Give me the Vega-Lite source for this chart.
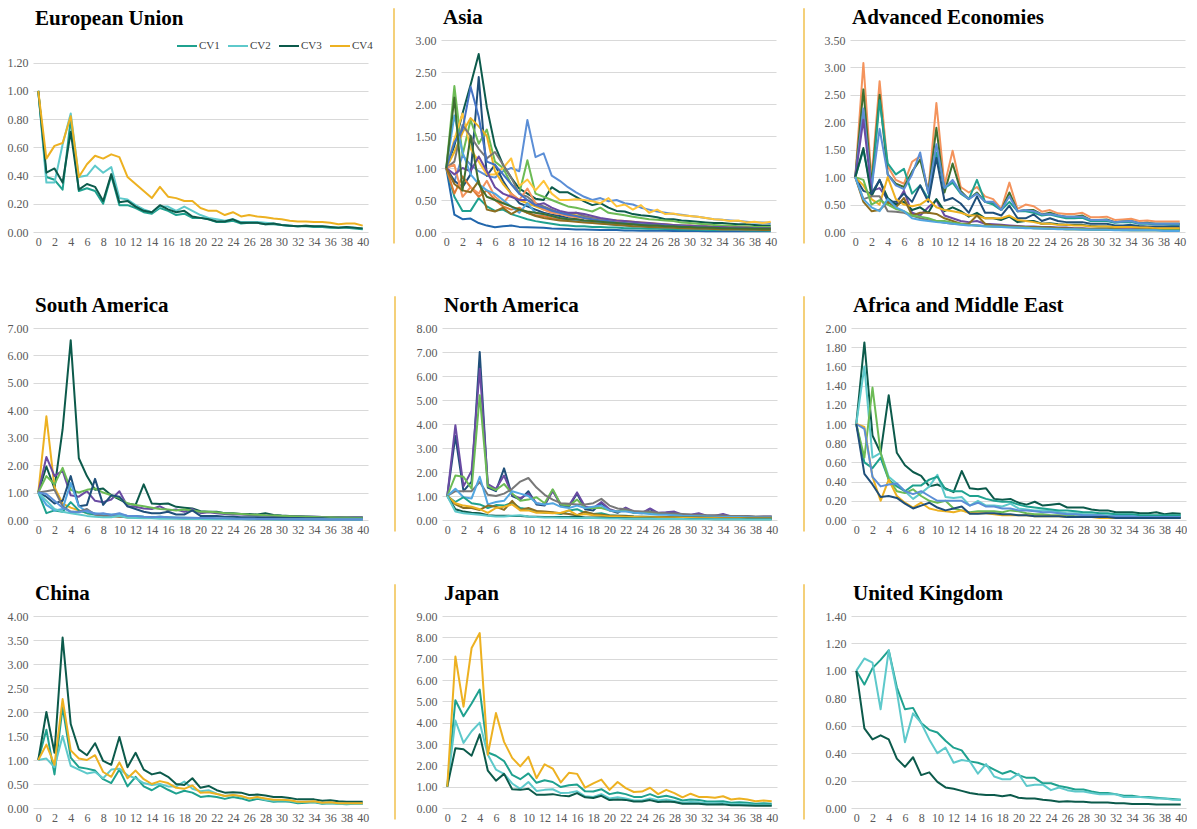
{
"$schema": "https://vega.github.io/schema/vega-lite/v6.json",
"background": "white",
"padding": {"left": 7, "top": 7, "right": 0, "bottom": 0},
"datasets": {
"eu": [
{"x":0,"CV1":1,"CV2":1,"CV3":1,"CV4":1},
{"x":1,"CV1":0.39,"CV2":0.35,"CV3":0.42,"CV4":0.52},
{"x":2,"CV1":0.37,"CV2":0.35,"CV3":0.45,"CV4":0.61},
{"x":3,"CV1":0.30,"CV2":0.62,"CV3":0.35,"CV4":0.63},
{"x":4,"CV1":0.80,"CV2":0.84,"CV3":0.71,"CV4":0.82},
{"x":5,"CV1":0.29,"CV2":0.39,"CV3":0.30,"CV4":0.39},
{"x":6,"CV1":0.31,"CV2":0.40,"CV3":0.34,"CV4":0.48},
{"x":7,"CV1":0.29,"CV2":0.47,"CV3":0.32,"CV4":0.54},
{"x":8,"CV1":0.20,"CV2":0.42,"CV3":0.22,"CV4":0.52},
{"x":9,"CV1":0.40,"CV2":0.46,"CV3":0.41,"CV4":0.55},
{"x":10,"CV1":0.19,"CV2":0.24,"CV3":0.21,"CV4":0.53},
{"x":11,"CV1":0.19,"CV2":0.23,"CV3":0.22,"CV4":0.39},
{"x":12,"CV1":0.17,"CV2":0.19,"CV3":0.18,"CV4":0.34},
{"x":13,"CV1":0.14,"CV2":0.16,"CV3":0.15,"CV4":0.29},
{"x":14,"CV1":0.13,"CV2":0.14,"CV3":0.14,"CV4":0.24},
{"x":15,"CV1":0.17,"CV2":0.18,"CV3":0.19,"CV4":0.32},
{"x":16,"CV1":0.15,"CV2":0.18,"CV3":0.16,"CV4":0.25},
{"x":17,"CV1":0.12,"CV2":0.15,"CV3":0.14,"CV4":0.24},
{"x":18,"CV1":0.13,"CV2":0.18,"CV3":0.15,"CV4":0.22},
{"x":19,"CV1":0.10,"CV2":0.15,"CV3":0.11,"CV4":0.22},
{"x":20,"CV1":0.10,"CV2":0.12,"CV3":0.10,"CV4":0.17},
{"x":21,"CV1":0.09,"CV2":0.10,"CV3":0.09,"CV4":0.15},
{"x":22,"CV1":0.07,"CV2":0.09,"CV3":0.075,"CV4":0.15},
{"x":23,"CV1":0.07,"CV2":0.08,"CV3":0.075,"CV4":0.12},
{"x":24,"CV1":0.08,"CV2":0.09,"CV3":0.09,"CV4":0.14},
{"x":25,"CV1":0.06,"CV2":0.07,"CV3":0.065,"CV4":0.11},
{"x":26,"CV1":0.065,"CV2":0.07,"CV3":0.065,"CV4":0.12},
{"x":27,"CV1":0.065,"CV2":0.07,"CV3":0.065,"CV4":0.11},
{"x":28,"CV1":0.055,"CV2":0.065,"CV3":0.055,"CV4":0.105},
{"x":29,"CV1":0.055,"CV2":0.06,"CV3":0.06,"CV4":0.095},
{"x":30,"CV1":0.05,"CV2":0.05,"CV3":0.05,"CV4":0.09},
{"x":31,"CV1":0.045,"CV2":0.045,"CV3":0.045,"CV4":0.08},
{"x":32,"CV1":0.04,"CV2":0.04,"CV3":0.04,"CV4":0.075},
{"x":33,"CV1":0.04,"CV2":0.045,"CV3":0.045,"CV4":0.075},
{"x":34,"CV1":0.035,"CV2":0.04,"CV3":0.04,"CV4":0.07},
{"x":35,"CV1":0.035,"CV2":0.04,"CV3":0.04,"CV4":0.07},
{"x":36,"CV1":0.03,"CV2":0.035,"CV3":0.035,"CV4":0.065},
{"x":37,"CV1":0.03,"CV2":0.03,"CV3":0.03,"CV4":0.055},
{"x":38,"CV1":0.03,"CV2":0.035,"CV3":0.035,"CV4":0.06},
{"x":39,"CV1":0.025,"CV2":0.03,"CV3":0.03,"CV4":0.06},
{"x":40,"CV1":0.02,"CV2":0.025,"CV3":0.025,"CV4":0.045}
],
"asia": [
{"x":0,"a":1,"b":1,"c":1,"d":1,"e":1,"f":1,"g":1,"h":1,"i":1,"j":1,"k":1,"l":1,"m":1,"n":1,"o":1,"p":1},
{"x":1,"a":1.35,"b":0.78,"c":0.8,"d":2.28,"e":1.45,"f":1.25,"g":1.1,"h":0.27,"i":0.55,"j":0.6,"k":1.05,"l":0.9,"m":1.82,"n":1.4,"o":0.75,"p":2.1},
{"x":2,"a":1.85,"b":1.2,"c":0.7,"d":1.2,"e":1.85,"f":1.55,"g":1.67,"h":0.2,"i":0.33,"j":0.87,"k":0.55,"l":1.0,"m":1.25,"n":1.6,"o":0.65,"p":0.65},
{"x":3,"a":2.3,"b":1.05,"c":0.9,"d":1.75,"e":1.3,"f":1.78,"g":1.5,"h":0.21,"i":0.33,"j":0.7,"k":0.7,"l":0.95,"m":0.9,"n":2.27,"o":0.62,"p":1.5},
{"x":4,"a":2.78,"b":0.95,"c":2.42,"d":1.38,"e":1.1,"f":1.65,"g":1.3,"h":0.14,"i":0.53,"j":0.55,"k":0.6,"l":1.18,"m":0.75,"n":1.8,"o":0.8,"p":0.75},
{"x":5,"a":1.95,"b":0.88,"c":0.88,"d":1.6,"e":0.9,"f":1.5,"g":1.15,"h":0.1,"i":0.4,"j":0.65,"k":0.8,"l":0.95,"m":0.65,"n":1.1,"o":0.35,"p":0.55},
{"x":6,"a":1.35,"b":0.85,"c":1.05,"d":1.1,"e":0.9,"f":0.95,"g":1.25,"h":0.075,"i":0.33,"j":0.5,"k":0.55,"l":0.7,"m":0.6,"n":1.05,"o":0.32,"p":0.5},
{"x":7,"a":1.05,"b":0.95,"c":0.8,"d":1.0,"e":1.0,"f":0.75,"g":1.05,"h":0.09,"i":0.35,"j":0.4,"k":0.45,"l":0.6,"m":0.5,"n":0.9,"o":0.38,"p":0.45},
{"x":8,"a":0.85,"b":1.0,"c":0.6,"d":0.75,"e":1.15,"f":0.6,"g":0.85,"h":0.1,"i":0.28,"j":0.35,"k":0.6,"l":0.55,"m":0.4,"n":0.75,"o":0.28,"p":0.4},
{"x":9,"a":0.68,"b":0.95,"c":0.45,"d":0.6,"e":0.72,"f":0.5,"g":0.6,"h":0.08,"i":0.24,"j":0.38,"k":0.5,"l":0.5,"m":0.3,"n":0.6,"o":0.35,"p":0.35},
{"x":10,"a":0.6,"b":1.75,"c":0.4,"d":1.12,"e":0.82,"f":0.45,"g":0.55,"h":0.075,"i":0.2,"j":0.3,"k":0.68,"l":0.5,"m":0.45,"n":0.5,"o":0.3,"p":0.32},
{"x":11,"a":0.52,"b":1.17,"c":0.35,"d":0.6,"e":0.65,"f":0.4,"g":0.45,"h":0.07,"i":0.17,"j":0.26,"k":0.45,"l":0.42,"m":0.3,"n":0.42,"o":0.25,"p":0.3},
{"x":12,"a":0.5,"b":1.23,"c":0.3,"d":0.55,"e":0.8,"f":0.35,"g":0.4,"h":0.065,"i":0.15,"j":0.25,"k":0.35,"l":0.45,"m":0.28,"n":0.38,"o":0.22,"p":0.28},
{"x":13,"a":0.7,"b":0.88,"c":0.27,"d":0.5,"e":0.6,"f":0.32,"g":0.35,"h":0.055,"i":0.13,"j":0.22,"k":0.3,"l":0.38,"m":0.25,"n":0.33,"o":0.2,"p":0.25},
{"x":14,"a":0.62,"b":0.8,"c":0.25,"d":0.45,"e":0.5,"f":0.3,"g":0.3,"h":0.05,"i":0.11,"j":0.2,"k":0.28,"l":0.33,"m":0.22,"n":0.3,"o":0.18,"p":0.22},
{"x":15,"a":0.62,"b":0.7,"c":0.22,"d":0.4,"e":0.5,"f":0.28,"g":0.28,"h":0.045,"i":0.1,"j":0.2,"k":0.25,"l":0.3,"m":0.2,"n":0.27,"o":0.17,"p":0.2},
{"x":16,"a":0.55,"b":0.62,"c":0.2,"d":0.38,"e":0.51,"f":0.26,"g":0.3,"h":0.04,"i":0.09,"j":0.18,"k":0.23,"l":0.3,"m":0.18,"n":0.25,"o":0.16,"p":0.2},
{"x":17,"a":0.48,"b":0.55,"c":0.18,"d":0.35,"e":0.5,"f":0.24,"g":0.25,"h":0.04,"i":0.09,"j":0.17,"k":0.22,"l":0.28,"m":0.16,"n":0.22,"o":0.15,"p":0.18},
{"x":18,"a":0.42,"b":0.5,"c":0.17,"d":0.32,"e":0.48,"f":0.22,"g":0.22,"h":0.035,"i":0.08,"j":0.16,"k":0.2,"l":0.25,"m":0.15,"n":0.2,"o":0.14,"p":0.17},
{"x":19,"a":0.45,"b":0.53,"c":0.15,"d":0.38,"e":0.45,"f":0.2,"g":0.2,"h":0.03,"i":0.08,"j":0.15,"k":0.18,"l":0.22,"m":0.14,"n":0.18,"o":0.13,"p":0.16},
{"x":20,"a":0.38,"b":0.48,"c":0.14,"d":0.3,"e":0.53,"f":0.19,"g":0.18,"h":0.03,"i":0.07,"j":0.14,"k":0.17,"l":0.2,"m":0.12,"n":0.17,"o":0.12,"p":0.15},
{"x":21,"a":0.33,"b":0.5,"c":0.13,"d":0.28,"e":0.4,"f":0.18,"g":0.17,"h":0.03,"i":0.07,"j":0.13,"k":0.16,"l":0.18,"m":0.11,"n":0.15,"o":0.11,"p":0.14},
{"x":22,"a":0.32,"b":0.45,"c":0.12,"d":0.26,"e":0.43,"f":0.17,"g":0.16,"h":0.025,"i":0.06,"j":0.12,"k":0.15,"l":0.17,"m":0.1,"n":0.14,"o":0.1,"p":0.13},
{"x":23,"a":0.28,"b":0.43,"c":0.11,"d":0.24,"e":0.35,"f":0.16,"g":0.15,"h":0.025,"i":0.06,"j":0.11,"k":0.13,"l":0.16,"m":0.09,"n":0.13,"o":0.09,"p":0.12},
{"x":24,"a":0.26,"b":0.38,"c":0.1,"d":0.22,"e":0.42,"f":0.15,"g":0.14,"h":0.02,"i":0.055,"j":0.1,"k":0.12,"l":0.15,"m":0.085,"n":0.12,"o":0.085,"p":0.11},
{"x":25,"a":0.25,"b":0.35,"c":0.09,"d":0.2,"e":0.3,"f":0.14,"g":0.13,"h":0.02,"i":0.05,"j":0.1,"k":0.11,"l":0.14,"m":0.08,"n":0.11,"o":0.08,"p":0.1},
{"x":26,"a":0.23,"b":0.32,"c":0.085,"d":0.19,"e":0.35,"f":0.13,"g":0.12,"h":0.02,"i":0.05,"j":0.09,"k":0.1,"l":0.13,"m":0.075,"n":0.1,"o":0.075,"p":0.1},
{"x":27,"a":0.2,"b":0.3,"c":0.08,"d":0.18,"e":0.28,"f":0.12,"g":0.11,"h":0.02,"i":0.045,"j":0.085,"k":0.095,"l":0.12,"m":0.07,"n":0.1,"o":0.07,"p":0.09},
{"x":28,"a":0.2,"b":0.28,"c":0.075,"d":0.17,"e":0.29,"f":0.11,"g":0.1,"h":0.015,"i":0.045,"j":0.08,"k":0.09,"l":0.11,"m":0.065,"n":0.09,"o":0.065,"p":0.09},
{"x":29,"a":0.18,"b":0.27,"c":0.07,"d":0.15,"e":0.26,"f":0.1,"g":0.1,"h":0.015,"i":0.04,"j":0.075,"k":0.085,"l":0.1,"m":0.06,"n":0.085,"o":0.06,"p":0.08},
{"x":30,"a":0.17,"b":0.25,"c":0.065,"d":0.14,"e":0.25,"f":0.1,"g":0.09,"h":0.015,"i":0.04,"j":0.07,"k":0.08,"l":0.1,"m":0.055,"n":0.08,"o":0.055,"p":0.08},
{"x":31,"a":0.16,"b":0.24,"c":0.06,"d":0.13,"e":0.24,"f":0.09,"g":0.09,"h":0.015,"i":0.035,"j":0.065,"k":0.075,"l":0.09,"m":0.05,"n":0.075,"o":0.05,"p":0.07},
{"x":32,"a":0.15,"b":0.22,"c":0.055,"d":0.12,"e":0.22,"f":0.09,"g":0.08,"h":0.01,"i":0.035,"j":0.06,"k":0.07,"l":0.09,"m":0.05,"n":0.07,"o":0.05,"p":0.07},
{"x":33,"a":0.14,"b":0.2,"c":0.05,"d":0.11,"e":0.2,"f":0.08,"g":0.08,"h":0.01,"i":0.03,"j":0.06,"k":0.065,"l":0.08,"m":0.045,"n":0.065,"o":0.045,"p":0.065},
{"x":34,"a":0.14,"b":0.19,"c":0.05,"d":0.1,"e":0.19,"f":0.08,"g":0.07,"h":0.01,"i":0.03,"j":0.055,"k":0.06,"l":0.08,"m":0.04,"n":0.06,"o":0.04,"p":0.06},
{"x":35,"a":0.13,"b":0.18,"c":0.045,"d":0.1,"e":0.17,"f":0.07,"g":0.07,"h":0.01,"i":0.03,"j":0.05,"k":0.06,"l":0.07,"m":0.04,"n":0.06,"o":0.04,"p":0.06},
{"x":36,"a":0.12,"b":0.17,"c":0.04,"d":0.09,"e":0.18,"f":0.07,"g":0.07,"h":0.01,"i":0.03,"j":0.05,"k":0.055,"l":0.07,"m":0.035,"n":0.055,"o":0.04,"p":0.055},
{"x":37,"a":0.12,"b":0.16,"c":0.04,"d":0.09,"e":0.15,"f":0.07,"g":0.06,"h":0.01,"i":0.025,"j":0.045,"k":0.05,"l":0.07,"m":0.035,"n":0.05,"o":0.035,"p":0.055},
{"x":38,"a":0.11,"b":0.15,"c":0.035,"d":0.08,"e":0.16,"f":0.06,"g":0.06,"h":0.01,"i":0.025,"j":0.045,"k":0.05,"l":0.06,"m":0.03,"n":0.05,"o":0.035,"p":0.05},
{"x":39,"a":0.1,"b":0.15,"c":0.035,"d":0.08,"e":0.14,"f":0.06,"g":0.06,"h":0.01,"i":0.025,"j":0.04,"k":0.05,"l":0.06,"m":0.03,"n":0.05,"o":0.03,"p":0.05},
{"x":40,"a":0.1,"b":0.14,"c":0.03,"d":0.08,"e":0.16,"f":0.06,"g":0.06,"h":0.01,"i":0.02,"j":0.04,"k":0.05,"l":0.06,"m":0.03,"n":0.045,"o":0.03,"p":0.05}
],
"adv": [
{"x":0,"a":1,"b":1,"c":1,"d":1,"e":1,"f":1,"g":1,"h":1,"i":1,"j":1,"k":1,"l":1},
{"x":1,"a":3.08,"b":2.6,"c":1.5,"d":2.25,"e":2.05,"f":1.53,"g":0.75,"h":0.85,"i":0.55,"j":0.6,"k":0.95,"l":0.6},
{"x":2,"a":0.95,"b":0.85,"c":0.75,"d":0.8,"e":0.75,"f":0.65,"g":0.7,"h":0.6,"i":0.38,"j":0.65,"k":0.5,"l":0.45},
{"x":3,"a":2.75,"b":2.5,"c":2.4,"d":1.88,"e":0.8,"f":0.95,"g":0.95,"h":0.5,"i":0.4,"j":0.65,"k":0.58,"l":0.38},
{"x":4,"a":1.2,"b":1.05,"c":1.25,"d":1.05,"e":0.6,"f":0.62,"g":0.55,"h":1.0,"i":0.55,"j":0.38,"k":0.5,"l":0.6},
{"x":5,"a":0.95,"b":0.88,"c":1.05,"d":0.85,"e":0.5,"f":0.5,"g":0.55,"h":0.6,"i":0.45,"j":0.37,"k":0.42,"l":0.45},
{"x":6,"a":0.88,"b":0.82,"c":1.15,"d":0.78,"e":0.75,"f":0.55,"g":0.7,"h":0.5,"i":0.62,"j":0.35,"k":0.38,"l":0.38},
{"x":7,"a":1.28,"b":1.1,"c":0.7,"d":1.05,"e":0.35,"f":0.4,"g":0.55,"h":0.47,"i":0.3,"j":0.3,"k":0.3,"l":0.25},
{"x":8,"a":1.38,"b":1.32,"c":0.85,"d":1.45,"e":0.3,"f":0.45,"g":0.85,"h":0.5,"i":0.35,"j":0.25,"k":0.28,"l":0.22},
{"x":9,"a":0.75,"b":0.72,"c":0.6,"d":0.7,"e":0.45,"f":0.35,"g":0.55,"h":0.6,"i":0.35,"j":0.22,"k":0.25,"l":0.2},
{"x":10,"a":2.35,"b":1.9,"c":1.45,"d":1.6,"e":0.58,"f":0.6,"g":1.35,"h":0.45,"i":0.33,"j":0.2,"k":0.2,"l":0.18},
{"x":11,"a":0.85,"b":0.72,"c":0.8,"d":0.8,"e":0.3,"f":0.38,"g":0.57,"h":0.4,"i":0.25,"j":0.17,"k":0.2,"l":0.17},
{"x":12,"a":1.48,"b":1.25,"c":0.9,"d":0.95,"e":0.25,"f":0.45,"g":0.62,"h":0.38,"i":0.2,"j":0.15,"k":0.17,"l":0.15},
{"x":13,"a":0.82,"b":0.75,"c":0.7,"d":0.72,"e":0.2,"f":0.38,"g":0.52,"h":0.35,"i":0.15,"j":0.14,"k":0.15,"l":0.13},
{"x":14,"a":0.72,"b":0.6,"c":0.6,"d":0.6,"e":0.18,"f":0.28,"g":0.35,"h":0.3,"i":0.15,"j":0.13,"k":0.13,"l":0.12},
{"x":15,"a":0.82,"b":0.72,"c":0.95,"d":0.7,"e":0.2,"f":0.35,"g":0.65,"h":0.3,"i":0.3,"j":0.12,"k":0.12,"l":0.12},
{"x":16,"a":0.65,"b":0.55,"c":0.55,"d":0.55,"e":0.15,"f":0.25,"g":0.35,"h":0.25,"i":0.15,"j":0.11,"k":0.11,"l":0.1},
{"x":17,"a":0.6,"b":0.52,"c":0.5,"d":0.55,"e":0.14,"f":0.25,"g":0.35,"h":0.25,"i":0.12,"j":0.1,"k":0.1,"l":0.1},
{"x":18,"a":0.42,"b":0.4,"c":0.4,"d":0.4,"e":0.13,"f":0.22,"g":0.3,"h":0.25,"i":0.12,"j":0.1,"k":0.1,"l":0.09},
{"x":19,"a":0.9,"b":0.72,"c":0.55,"d":0.65,"e":0.12,"f":0.28,"g":0.48,"h":0.3,"i":0.1,"j":0.09,"k":0.09,"l":0.08},
{"x":20,"a":0.42,"b":0.38,"c":0.38,"d":0.38,"e":0.11,"f":0.18,"g":0.25,"h":0.22,"i":0.1,"j":0.08,"k":0.08,"l":0.08},
{"x":21,"a":0.5,"b":0.4,"c":0.38,"d":0.4,"e":0.1,"f":0.2,"g":0.25,"h":0.2,"i":0.09,"j":0.08,"k":0.08,"l":0.07},
{"x":22,"a":0.47,"b":0.4,"c":0.35,"d":0.38,"e":0.1,"f":0.2,"g":0.32,"h":0.18,"i":0.09,"j":0.07,"k":0.07,"l":0.07},
{"x":23,"a":0.37,"b":0.32,"c":0.3,"d":0.32,"e":0.09,"f":0.15,"g":0.2,"h":0.15,"i":0.08,"j":0.07,"k":0.07,"l":0.06},
{"x":24,"a":0.4,"b":0.35,"c":0.32,"d":0.33,"e":0.09,"f":0.16,"g":0.25,"h":0.15,"i":0.08,"j":0.06,"k":0.06,"l":0.06},
{"x":25,"a":0.34,"b":0.3,"c":0.28,"d":0.3,"e":0.08,"f":0.14,"g":0.2,"h":0.13,"i":0.07,"j":0.06,"k":0.06,"l":0.05},
{"x":26,"a":0.33,"b":0.28,"c":0.25,"d":0.28,"e":0.08,"f":0.13,"g":0.18,"h":0.13,"i":0.07,"j":0.05,"k":0.05,"l":0.05},
{"x":27,"a":0.33,"b":0.28,"c":0.25,"d":0.28,"e":0.07,"f":0.13,"g":0.18,"h":0.12,"i":0.06,"j":0.05,"k":0.05,"l":0.05},
{"x":28,"a":0.35,"b":0.3,"c":0.26,"d":0.28,"e":0.07,"f":0.13,"g":0.18,"h":0.12,"i":0.06,"j":0.05,"k":0.05,"l":0.04},
{"x":29,"a":0.27,"b":0.22,"c":0.2,"d":0.22,"e":0.06,"f":0.11,"g":0.15,"h":0.1,"i":0.05,"j":0.05,"k":0.04,"l":0.04},
{"x":30,"a":0.27,"b":0.22,"c":0.2,"d":0.22,"e":0.06,"f":0.1,"g":0.15,"h":0.1,"i":0.05,"j":0.04,"k":0.04,"l":0.04},
{"x":31,"a":0.28,"b":0.23,"c":0.2,"d":0.22,"e":0.06,"f":0.1,"g":0.15,"h":0.1,"i":0.05,"j":0.04,"k":0.04,"l":0.04},
{"x":32,"a":0.22,"b":0.18,"c":0.17,"d":0.18,"e":0.05,"f":0.09,"g":0.12,"h":0.09,"i":0.05,"j":0.04,"k":0.04,"l":0.03},
{"x":33,"a":0.23,"b":0.19,"c":0.18,"d":0.19,"e":0.05,"f":0.09,"g":0.12,"h":0.09,"i":0.04,"j":0.04,"k":0.03,"l":0.03},
{"x":34,"a":0.24,"b":0.2,"c":0.18,"d":0.2,"e":0.05,"f":0.09,"g":0.13,"h":0.09,"i":0.04,"j":0.03,"k":0.03,"l":0.03},
{"x":35,"a":0.2,"b":0.16,"c":0.15,"d":0.16,"e":0.05,"f":0.08,"g":0.11,"h":0.08,"i":0.04,"j":0.03,"k":0.03,"l":0.03},
{"x":36,"a":0.21,"b":0.17,"c":0.15,"d":0.16,"e":0.04,"f":0.08,"g":0.1,"h":0.08,"i":0.04,"j":0.03,"k":0.03,"l":0.03},
{"x":37,"a":0.19,"b":0.15,"c":0.14,"d":0.15,"e":0.04,"f":0.07,"g":0.1,"h":0.07,"i":0.04,"j":0.03,"k":0.03,"l":0.03},
{"x":38,"a":0.19,"b":0.15,"c":0.14,"d":0.15,"e":0.04,"f":0.07,"g":0.1,"h":0.07,"i":0.03,"j":0.03,"k":0.03,"l":0.02},
{"x":39,"a":0.19,"b":0.15,"c":0.13,"d":0.15,"e":0.04,"f":0.07,"g":0.1,"h":0.07,"i":0.03,"j":0.03,"k":0.03,"l":0.02},
{"x":40,"a":0.19,"b":0.15,"c":0.13,"d":0.15,"e":0.04,"f":0.07,"g":0.1,"h":0.07,"i":0.03,"j":0.03,"k":0.03,"l":0.02}
],
"sam": [
{"x":0,"a":1,"b":1,"c":1,"d":1,"e":1,"f":1,"g":1,"h":1,"i":1,"j":1},
{"x":1,"a":1.95,"b":3.78,"c":2.3,"d":1.6,"e":0.85,"f":0.25,"g":0.55,"h":1.05,"i":0.7,"j":0.95},
{"x":2,"a":1.15,"b":1.2,"c":1.6,"d":1.3,"e":0.6,"f":0.35,"g":0.35,"h":1.1,"i":0.4,"j":0.7},
{"x":3,"a":3.3,"b":0.6,"c":1.8,"d":1.9,"e":0.7,"f":0.3,"g":0.4,"h":0.5,"i":0.3,"j":0.45},
{"x":4,"a":6.55,"b":0.45,"c":0.9,"d":1.1,"e":1.6,"f":0.65,"g":1.35,"h":0.3,"i":0.25,"j":0.3},
{"x":5,"a":2.25,"b":0.35,"c":0.85,"d":1.0,"e":0.5,"f":0.35,"g":0.5,"h":0.3,"i":0.2,"j":0.28},
{"x":6,"a":1.6,"b":0.25,"c":1.05,"d":1.1,"e":0.55,"f":0.25,"g":0.3,"h":0.4,"i":0.15,"j":0.35},
{"x":7,"a":1.1,"b":0.2,"c":0.7,"d":1.15,"e":1.5,"f":0.2,"g":0.25,"h":0.2,"i":0.12,"j":0.22},
{"x":8,"a":1.15,"b":0.15,"c":0.65,"d":1.0,"e":0.55,"f":0.2,"g":0.2,"h":0.15,"i":0.1,"j":0.25},
{"x":9,"a":0.9,"b":0.15,"c":0.75,"d":0.9,"e":0.9,"f":0.18,"g":0.2,"h":0.15,"i":0.1,"j":0.18},
{"x":10,"a":0.75,"b":0.12,"c":1.05,"d":0.8,"e":0.85,"f":0.2,"g":0.18,"h":0.12,"i":0.15,"j":0.25},
{"x":11,"a":0.6,"b":0.1,"c":0.5,"d":0.6,"e":0.5,"f":0.15,"g":0.15,"h":0.1,"i":0.08,"j":0.15},
{"x":12,"a":0.55,"b":0.1,"c":0.48,"d":0.55,"e":0.4,"f":0.15,"g":0.12,"h":0.1,"i":0.07,"j":0.15},
{"x":13,"a":1.3,"b":0.09,"c":0.42,"d":0.5,"e":0.3,"f":0.12,"g":0.1,"h":0.08,"i":0.06,"j":0.12},
{"x":14,"a":0.6,"b":0.08,"c":0.4,"d":0.45,"e":0.25,"f":0.1,"g":0.08,"h":0.08,"i":0.06,"j":0.1},
{"x":15,"a":0.58,"b":0.08,"c":0.5,"d":0.4,"e":0.25,"f":0.12,"g":0.08,"h":0.07,"i":0.05,"j":0.12},
{"x":16,"a":0.6,"b":0.07,"c":0.35,"d":0.38,"e":0.3,"f":0.1,"g":0.08,"h":0.07,"i":0.05,"j":0.1},
{"x":17,"a":0.48,"b":0.07,"c":0.38,"d":0.35,"e":0.2,"f":0.08,"g":0.07,"h":0.06,"i":0.05,"j":0.09},
{"x":18,"a":0.45,"b":0.06,"c":0.3,"d":0.38,"e":0.2,"f":0.08,"g":0.06,"h":0.06,"i":0.04,"j":0.08},
{"x":19,"a":0.42,"b":0.06,"c":0.4,"d":0.35,"e":0.35,"f":0.07,"g":0.06,"h":0.05,"i":0.04,"j":0.08},
{"x":20,"a":0.32,"b":0.05,"c":0.25,"d":0.3,"e":0.15,"f":0.06,"g":0.05,"h":0.05,"i":0.04,"j":0.07},
{"x":21,"a":0.3,"b":0.05,"c":0.28,"d":0.3,"e":0.15,"f":0.06,"g":0.05,"h":0.05,"i":0.03,"j":0.07},
{"x":22,"a":0.3,"b":0.05,"c":0.25,"d":0.28,"e":0.15,"f":0.05,"g":0.05,"h":0.04,"i":0.03,"j":0.06},
{"x":23,"a":0.25,"b":0.04,"c":0.22,"d":0.25,"e":0.12,"f":0.05,"g":0.04,"h":0.04,"i":0.03,"j":0.06},
{"x":24,"a":0.25,"b":0.04,"c":0.2,"d":0.24,"e":0.12,"f":0.05,"g":0.04,"h":0.04,"i":0.03,"j":0.05},
{"x":25,"a":0.22,"b":0.04,"c":0.2,"d":0.22,"e":0.1,"f":0.04,"g":0.04,"h":0.04,"i":0.03,"j":0.05},
{"x":26,"a":0.22,"b":0.04,"c":0.18,"d":0.2,"e":0.1,"f":0.04,"g":0.03,"h":0.03,"i":0.03,"j":0.05},
{"x":27,"a":0.2,"b":0.03,"c":0.17,"d":0.19,"e":0.1,"f":0.04,"g":0.03,"h":0.03,"i":0.03,"j":0.04},
{"x":28,"a":0.25,"b":0.03,"c":0.16,"d":0.17,"e":0.09,"f":0.04,"g":0.03,"h":0.03,"i":0.02,"j":0.04},
{"x":29,"a":0.18,"b":0.03,"c":0.15,"d":0.16,"e":0.08,"f":0.03,"g":0.03,"h":0.03,"i":0.02,"j":0.04},
{"x":30,"a":0.16,"b":0.03,"c":0.14,"d":0.15,"e":0.08,"f":0.03,"g":0.03,"h":0.03,"i":0.02,"j":0.03},
{"x":31,"a":0.15,"b":0.03,"c":0.13,"d":0.14,"e":0.07,"f":0.03,"g":0.02,"h":0.03,"i":0.02,"j":0.03},
{"x":32,"a":0.14,"b":0.03,"c":0.13,"d":0.13,"e":0.07,"f":0.03,"g":0.02,"h":0.02,"i":0.02,"j":0.03},
{"x":33,"a":0.13,"b":0.02,"c":0.12,"d":0.12,"e":0.06,"f":0.03,"g":0.02,"h":0.02,"i":0.02,"j":0.03},
{"x":34,"a":0.12,"b":0.02,"c":0.12,"d":0.11,"e":0.06,"f":0.02,"g":0.02,"h":0.02,"i":0.02,"j":0.03},
{"x":35,"a":0.11,"b":0.02,"c":0.11,"d":0.1,"e":0.06,"f":0.02,"g":0.02,"h":0.02,"i":0.02,"j":0.03},
{"x":36,"a":0.1,"b":0.02,"c":0.1,"d":0.1,"e":0.05,"f":0.02,"g":0.02,"h":0.02,"i":0.02,"j":0.02},
{"x":37,"a":0.1,"b":0.02,"c":0.1,"d":0.09,"e":0.05,"f":0.02,"g":0.02,"h":0.02,"i":0.02,"j":0.02},
{"x":38,"a":0.09,"b":0.02,"c":0.1,"d":0.09,"e":0.05,"f":0.02,"g":0.02,"h":0.02,"i":0.02,"j":0.02},
{"x":39,"a":0.09,"b":0.02,"c":0.1,"d":0.08,"e":0.05,"f":0.02,"g":0.02,"h":0.02,"i":0.02,"j":0.02},
{"x":40,"a":0.09,"b":0.02,"c":0.1,"d":0.08,"e":0.05,"f":0.02,"g":0.02,"h":0.02,"i":0.02,"j":0.02}
],
"nam": [
{"x":0,"a":1,"b":1,"c":1,"d":1,"e":1,"f":1,"g":1,"h":1,"i":1,"j":1},
{"x":1,"a":3.5,"b":3.95,"c":1.85,"d":1.2,"e":1.3,"f":0.75,"g":0.65,"h":0.7,"i":0.45,"j":0.35},
{"x":2,"a":1.2,"b":1.4,"c":1.8,"d":1.2,"e":0.95,"f":0.95,"g":0.5,"h":0.6,"i":0.35,"j":0.28},
{"x":3,"a":1.6,"b":2.05,"c":1.3,"d":1.2,"e":0.9,"f":0.7,"g":0.5,"h":0.55,"i":0.3,"j":0.25},
{"x":4,"a":7.0,"b":6.3,"c":5.2,"d":1.58,"e":1.8,"f":0.65,"g":0.42,"h":0.45,"i":0.28,"j":0.22},
{"x":5,"a":1.35,"b":1.5,"c":1.4,"d":1.05,"e":0.65,"f":0.5,"g":0.6,"h":0.3,"i":0.2,"j":0.18},
{"x":6,"a":1.2,"b":1.3,"c":1.25,"d":1.0,"e":0.75,"f":0.62,"g":0.55,"h":0.5,"i":0.18,"j":0.15},
{"x":7,"a":2.15,"b":1.85,"c":1.5,"d":1.1,"e":0.8,"f":0.6,"g":0.42,"h":0.55,"i":0.18,"j":0.15},
{"x":8,"a":1.0,"b":1.05,"c":1.1,"d":1.3,"e":1.2,"f":0.72,"g":0.8,"h":0.65,"i":0.17,"j":0.18},
{"x":9,"a":0.85,"b":0.9,"c":0.8,"d":1.6,"e":1.1,"f":0.5,"g":0.42,"h":0.4,"i":0.17,"j":0.2},
{"x":10,"a":1.2,"b":1.1,"c":0.85,"d":1.75,"e":1.0,"f":0.45,"g":0.5,"h":0.4,"i":0.15,"j":0.15},
{"x":11,"a":0.65,"b":0.7,"c":0.95,"d":1.35,"e":0.7,"f":0.35,"g":0.38,"h":0.3,"i":0.14,"j":0.12},
{"x":12,"a":0.6,"b":0.65,"c":0.7,"d":1.05,"e":0.65,"f":0.3,"g":0.35,"h":0.3,"i":0.13,"j":0.1},
{"x":13,"a":1.25,"b":1.2,"c":1.28,"d":0.85,"e":0.7,"f":0.3,"g":0.32,"h":0.28,"i":0.12,"j":0.1},
{"x":14,"a":0.6,"b":0.65,"c":0.65,"d":0.7,"e":0.55,"f":0.25,"g":0.28,"h":0.3,"i":0.12,"j":0.09},
{"x":15,"a":0.55,"b":0.6,"c":0.6,"d":0.68,"e":0.5,"f":0.4,"g":0.25,"h":0.4,"i":0.12,"j":0.09},
{"x":16,"a":1.1,"b":1.15,"c":0.85,"d":0.65,"e":0.6,"f":0.45,"g":0.2,"h":0.2,"i":0.15,"j":0.08},
{"x":17,"a":0.45,"b":0.55,"c":0.5,"d":0.65,"e":0.5,"f":0.3,"g":0.35,"h":0.25,"i":0.1,"j":0.08},
{"x":18,"a":0.4,"b":0.5,"c":0.5,"d":0.7,"e":0.55,"f":0.25,"g":0.25,"h":0.2,"i":0.1,"j":0.08},
{"x":19,"a":0.7,"b":0.75,"c":0.5,"d":0.88,"e":0.6,"f":0.28,"g":0.22,"h":0.18,"i":0.1,"j":0.07},
{"x":20,"a":0.4,"b":0.45,"c":0.4,"d":0.6,"e":0.4,"f":0.2,"g":0.18,"h":0.15,"i":0.08,"j":0.06},
{"x":21,"a":0.3,"b":0.35,"c":0.35,"d":0.48,"e":0.35,"f":0.18,"g":0.18,"h":0.15,"i":0.08,"j":0.06},
{"x":22,"a":0.5,"b":0.52,"c":0.4,"d":0.45,"e":0.35,"f":0.18,"g":0.17,"h":0.13,"i":0.07,"j":0.05},
{"x":23,"a":0.3,"b":0.35,"c":0.3,"d":0.38,"e":0.3,"f":0.15,"g":0.15,"h":0.12,"i":0.06,"j":0.05},
{"x":24,"a":0.28,"b":0.3,"c":0.3,"d":0.35,"e":0.28,"f":0.14,"g":0.14,"h":0.11,"i":0.06,"j":0.05},
{"x":25,"a":0.45,"b":0.48,"c":0.32,"d":0.35,"e":0.25,"f":0.14,"g":0.13,"h":0.1,"i":0.06,"j":0.05},
{"x":26,"a":0.25,"b":0.3,"c":0.25,"d":0.3,"e":0.22,"f":0.12,"g":0.12,"h":0.1,"i":0.05,"j":0.04},
{"x":27,"a":0.3,"b":0.32,"c":0.25,"d":0.28,"e":0.22,"f":0.12,"g":0.12,"h":0.09,"i":0.05,"j":0.04},
{"x":28,"a":0.3,"b":0.35,"c":0.25,"d":0.27,"e":0.2,"f":0.11,"g":0.11,"h":0.09,"i":0.05,"j":0.04},
{"x":29,"a":0.2,"b":0.22,"c":0.2,"d":0.25,"e":0.18,"f":0.1,"g":0.1,"h":0.08,"i":0.04,"j":0.04},
{"x":30,"a":0.2,"b":0.22,"c":0.2,"d":0.23,"e":0.17,"f":0.1,"g":0.1,"h":0.08,"i":0.04,"j":0.03},
{"x":31,"a":0.25,"b":0.28,"c":0.2,"d":0.22,"e":0.16,"f":0.09,"g":0.1,"h":0.07,"i":0.04,"j":0.03},
{"x":32,"a":0.15,"b":0.18,"c":0.17,"d":0.2,"e":0.15,"f":0.09,"g":0.09,"h":0.07,"i":0.04,"j":0.03},
{"x":33,"a":0.15,"b":0.18,"c":0.17,"d":0.2,"e":0.14,"f":0.08,"g":0.09,"h":0.07,"i":0.03,"j":0.03},
{"x":34,"a":0.2,"b":0.25,"c":0.17,"d":0.19,"e":0.13,"f":0.08,"g":0.08,"h":0.06,"i":0.03,"j":0.03},
{"x":35,"a":0.13,"b":0.15,"c":0.14,"d":0.17,"e":0.12,"f":0.07,"g":0.08,"h":0.06,"i":0.03,"j":0.03},
{"x":36,"a":0.13,"b":0.16,"c":0.14,"d":0.17,"e":0.12,"f":0.07,"g":0.08,"h":0.06,"i":0.03,"j":0.03},
{"x":37,"a":0.13,"b":0.17,"c":0.14,"d":0.16,"e":0.11,"f":0.07,"g":0.07,"h":0.05,"i":0.03,"j":0.02},
{"x":38,"a":0.1,"b":0.13,"c":0.12,"d":0.15,"e":0.1,"f":0.06,"g":0.07,"h":0.05,"i":0.03,"j":0.02},
{"x":39,"a":0.12,"b":0.15,"c":0.12,"d":0.15,"e":0.1,"f":0.06,"g":0.07,"h":0.05,"i":0.03,"j":0.02},
{"x":40,"a":0.12,"b":0.15,"c":0.12,"d":0.15,"e":0.1,"f":0.06,"g":0.07,"h":0.05,"i":0.03,"j":0.02}
],
"afr": [
{"x":0,"a":1,"b":1,"c":1,"d":1,"e":1,"f":1,"g":1},
{"x":1,"a":1.85,"b":1.6,"c":0.6,"d":0.65,"e":0.97,"f":0.95,"g":0.48},
{"x":2,"a":0.88,"b":0.65,"c":0.54,"d":1.38,"e":0.45,"f":0.45,"g":0.37},
{"x":3,"a":0.7,"b":0.7,"c":0.65,"d":0.7,"e":0.2,"f":0.35,"g":0.24},
{"x":4,"a":1.3,"b":0.45,"c":0.42,"d":0.42,"e":0.42,"f":0.37,"g":0.25},
{"x":5,"a":0.7,"b":0.38,"c":0.35,"d":0.3,"e":0.25,"f":0.38,"g":0.23},
{"x":6,"a":0.57,"b":0.3,"c":0.3,"d":0.28,"e":0.18,"f":0.3,"g":0.17},
{"x":7,"a":0.5,"b":0.22,"c":0.36,"d":0.32,"e":0.13,"f":0.27,"g":0.12},
{"x":8,"a":0.46,"b":0.28,"c":0.36,"d":0.25,"e":0.18,"f":0.3,"g":0.15},
{"x":9,"a":0.35,"b":0.35,"c":0.42,"d":0.2,"e":0.12,"f":0.25,"g":0.18},
{"x":10,"a":0.37,"b":0.47,"c":0.45,"d":0.18,"e":0.1,"f":0.2,"g":0.13},
{"x":11,"a":0.33,"b":0.24,"c":0.32,"d":0.2,"e":0.09,"f":0.2,"g":0.1},
{"x":12,"a":0.29,"b":0.23,"c":0.3,"d":0.12,"e":0.08,"f":0.2,"g":0.12},
{"x":13,"a":0.51,"b":0.24,"c":0.3,"d":0.1,"e":0.1,"f":0.2,"g":0.14},
{"x":14,"a":0.33,"b":0.15,"c":0.25,"d":0.08,"e":0.07,"f":0.15,"g":0.065},
{"x":15,"a":0.32,"b":0.2,"c":0.25,"d":0.09,"e":0.07,"f":0.18,"g":0.065},
{"x":16,"a":0.33,"b":0.15,"c":0.22,"d":0.09,"e":0.07,"f":0.14,"g":0.07},
{"x":17,"a":0.22,"b":0.15,"c":0.2,"d":0.09,"e":0.06,"f":0.14,"g":0.07},
{"x":18,"a":0.21,"b":0.14,"c":0.19,"d":0.08,"e":0.05,"f":0.12,"g":0.06},
{"x":19,"a":0.22,"b":0.17,"c":0.19,"d":0.1,"e":0.05,"f":0.12,"g":0.06},
{"x":20,"a":0.18,"b":0.12,"c":0.16,"d":0.09,"e":0.05,"f":0.1,"g":0.05},
{"x":21,"a":0.16,"b":0.11,"c":0.14,"d":0.07,"e":0.05,"f":0.1,"g":0.05},
{"x":22,"a":0.19,"b":0.1,"c":0.13,"d":0.06,"e":0.04,"f":0.09,"g":0.04},
{"x":23,"a":0.15,"b":0.1,"c":0.12,"d":0.06,"e":0.04,"f":0.08,"g":0.04},
{"x":24,"a":0.16,"b":0.09,"c":0.11,"d":0.05,"e":0.04,"f":0.08,"g":0.04},
{"x":25,"a":0.17,"b":0.08,"c":0.1,"d":0.05,"e":0.04,"f":0.07,"g":0.04},
{"x":26,"a":0.13,"b":0.07,"c":0.1,"d":0.05,"e":0.03,"f":0.06,"g":0.03},
{"x":27,"a":0.13,"b":0.07,"c":0.09,"d":0.04,"e":0.03,"f":0.06,"g":0.03},
{"x":28,"a":0.13,"b":0.06,"c":0.08,"d":0.04,"e":0.03,"f":0.05,"g":0.03},
{"x":29,"a":0.11,"b":0.06,"c":0.08,"d":0.04,"e":0.03,"f":0.05,"g":0.03},
{"x":30,"a":0.1,"b":0.05,"c":0.07,"d":0.04,"e":0.02,"f":0.05,"g":0.03},
{"x":31,"a":0.1,"b":0.05,"c":0.07,"d":0.03,"e":0.02,"f":0.04,"g":0.03},
{"x":32,"a":0.08,"b":0.05,"c":0.06,"d":0.03,"e":0.02,"f":0.04,"g":0.02},
{"x":33,"a":0.08,"b":0.05,"c":0.06,"d":0.03,"e":0.02,"f":0.04,"g":0.02},
{"x":34,"a":0.08,"b":0.04,"c":0.06,"d":0.03,"e":0.02,"f":0.04,"g":0.02},
{"x":35,"a":0.07,"b":0.04,"c":0.05,"d":0.03,"e":0.02,"f":0.03,"g":0.02},
{"x":36,"a":0.07,"b":0.04,"c":0.05,"d":0.03,"e":0.02,"f":0.03,"g":0.02},
{"x":37,"a":0.08,"b":0.04,"c":0.05,"d":0.03,"e":0.02,"f":0.03,"g":0.02},
{"x":38,"a":0.06,"b":0.04,"c":0.05,"d":0.03,"e":0.02,"f":0.03,"g":0.02},
{"x":39,"a":0.07,"b":0.04,"c":0.05,"d":0.03,"e":0.02,"f":0.03,"g":0.02},
{"x":40,"a":0.065,"b":0.04,"c":0.05,"d":0.03,"e":0.02,"f":0.03,"g":0.02}
],
"chn": [
{"x":0,"CV1":1,"CV2":1,"CV3":1,"CV4":1},
{"x":1,"CV1":1.63,"CV2":1.03,"CV3":2.0,"CV4":1.32},
{"x":2,"CV1":0.7,"CV2":0.85,"CV3":1.15,"CV4":0.9},
{"x":3,"CV1":2.1,"CV2":1.5,"CV3":3.55,"CV4":2.27},
{"x":4,"CV1":1.05,"CV2":0.88,"CV3":1.75,"CV4":1.2},
{"x":5,"CV1":0.85,"CV2":0.8,"CV3":1.22,"CV4":1.03},
{"x":6,"CV1":0.82,"CV2":0.72,"CV3":1.1,"CV4":1.0},
{"x":7,"CV1":0.78,"CV2":0.75,"CV3":1.35,"CV4":1.1},
{"x":8,"CV1":0.6,"CV2":0.62,"CV3":0.98,"CV4":0.75},
{"x":9,"CV1":0.52,"CV2":0.8,"CV3":0.9,"CV4":0.65},
{"x":10,"CV1":0.8,"CV2":0.82,"CV3":1.48,"CV4":0.95},
{"x":11,"CV1":0.45,"CV2":0.68,"CV3":0.85,"CV4":0.62},
{"x":12,"CV1":0.65,"CV2":0.62,"CV3":1.15,"CV4":0.78},
{"x":13,"CV1":0.45,"CV2":0.52,"CV3":0.8,"CV4":0.6},
{"x":14,"CV1":0.37,"CV2":0.48,"CV3":0.7,"CV4":0.5},
{"x":15,"CV1":0.47,"CV2":0.5,"CV3":0.74,"CV4":0.56},
{"x":16,"CV1":0.38,"CV2":0.45,"CV3":0.65,"CV4":0.52},
{"x":17,"CV1":0.3,"CV2":0.45,"CV3":0.5,"CV4":0.42},
{"x":18,"CV1":0.36,"CV2":0.55,"CV3":0.48,"CV4":0.4},
{"x":19,"CV1":0.32,"CV2":0.4,"CV3":0.62,"CV4":0.47},
{"x":20,"CV1":0.23,"CV2":0.35,"CV3":0.42,"CV4":0.32},
{"x":21,"CV1":0.25,"CV2":0.37,"CV3":0.46,"CV4":0.33},
{"x":22,"CV1":0.23,"CV2":0.3,"CV3":0.37,"CV4":0.29},
{"x":23,"CV1":0.19,"CV2":0.25,"CV3":0.32,"CV4":0.25},
{"x":24,"CV1":0.23,"CV2":0.27,"CV3":0.33,"CV4":0.27},
{"x":25,"CV1":0.2,"CV2":0.24,"CV3":0.32,"CV4":0.25},
{"x":26,"CV1":0.15,"CV2":0.2,"CV3":0.27,"CV4":0.2},
{"x":27,"CV1":0.19,"CV2":0.22,"CV3":0.28,"CV4":0.23},
{"x":28,"CV1":0.16,"CV2":0.17,"CV3":0.26,"CV4":0.2},
{"x":29,"CV1":0.13,"CV2":0.15,"CV3":0.23,"CV4":0.17},
{"x":30,"CV1":0.14,"CV2":0.16,"CV3":0.23,"CV4":0.17},
{"x":31,"CV1":0.13,"CV2":0.15,"CV3":0.21,"CV4":0.16},
{"x":32,"CV1":0.1,"CV2":0.12,"CV3":0.18,"CV4":0.13},
{"x":33,"CV1":0.11,"CV2":0.13,"CV3":0.18,"CV4":0.13},
{"x":34,"CV1":0.12,"CV2":0.13,"CV3":0.18,"CV4":0.14},
{"x":35,"CV1":0.09,"CV2":0.1,"CV3":0.15,"CV4":0.11},
{"x":36,"CV1":0.1,"CV2":0.11,"CV3":0.16,"CV4":0.12},
{"x":37,"CV1":0.09,"CV2":0.09,"CV3":0.14,"CV4":0.1},
{"x":38,"CV1":0.08,"CV2":0.09,"CV3":0.13,"CV4":0.1},
{"x":39,"CV1":0.09,"CV2":0.09,"CV3":0.13,"CV4":0.1},
{"x":40,"CV1":0.09,"CV2":0.09,"CV3":0.13,"CV4":0.1}
],
"jpn": [
{"x":0,"CV1":1,"CV2":1,"CV3":1,"CV4":1},
{"x":1,"CV1":5.05,"CV2":4.1,"CV3":2.8,"CV4":7.1},
{"x":2,"CV1":4.3,"CV2":3.05,"CV3":2.75,"CV4":4.75},
{"x":3,"CV1":4.9,"CV2":3.6,"CV3":2.45,"CV4":7.5},
{"x":4,"CV1":5.55,"CV2":4.0,"CV3":3.45,"CV4":8.2},
{"x":5,"CV1":2.6,"CV2":2.5,"CV3":1.75,"CV4":2.5},
{"x":6,"CV1":2.45,"CV2":1.8,"CV3":1.28,"CV4":4.45},
{"x":7,"CV1":2.2,"CV2":1.6,"CV3":1.6,"CV4":3.1},
{"x":8,"CV1":1.55,"CV2":1.15,"CV3":0.88,"CV4":2.35},
{"x":9,"CV1":1.35,"CV2":0.9,"CV3":0.85,"CV4":1.95},
{"x":10,"CV1":1.62,"CV2":1.22,"CV3":0.9,"CV4":2.4},
{"x":11,"CV1":1.18,"CV2":0.8,"CV3":0.62,"CV4":1.4},
{"x":12,"CV1":1.3,"CV2":0.85,"CV3":0.62,"CV4":2.05},
{"x":13,"CV1":1.22,"CV2":0.88,"CV3":0.65,"CV4":1.85},
{"x":14,"CV1":0.98,"CV2":0.7,"CV3":0.58,"CV4":1.2},
{"x":15,"CV1":1.07,"CV2":0.72,"CV3":0.55,"CV4":1.65},
{"x":16,"CV1":1.1,"CV2":0.78,"CV3":0.7,"CV4":1.6},
{"x":17,"CV1":0.78,"CV2":0.55,"CV3":0.5,"CV4":0.95},
{"x":18,"CV1":0.77,"CV2":0.52,"CV3":0.47,"CV4":1.15},
{"x":19,"CV1":0.88,"CV2":0.65,"CV3":0.57,"CV4":1.33},
{"x":20,"CV1":0.65,"CV2":0.45,"CV3":0.37,"CV4":0.85},
{"x":21,"CV1":0.73,"CV2":0.5,"CV3":0.4,"CV4":1.22},
{"x":22,"CV1":0.65,"CV2":0.45,"CV3":0.38,"CV4":0.93},
{"x":23,"CV1":0.52,"CV2":0.35,"CV3":0.3,"CV4":0.75},
{"x":24,"CV1":0.52,"CV2":0.35,"CV3":0.3,"CV4":0.77},
{"x":25,"CV1":0.65,"CV2":0.45,"CV3":0.37,"CV4":0.95},
{"x":26,"CV1":0.5,"CV2":0.35,"CV3":0.28,"CV4":0.65},
{"x":27,"CV1":0.57,"CV2":0.4,"CV3":0.3,"CV4":0.85},
{"x":28,"CV1":0.48,"CV2":0.33,"CV3":0.28,"CV4":0.7},
{"x":29,"CV1":0.35,"CV2":0.25,"CV3":0.2,"CV4":0.5},
{"x":30,"CV1":0.4,"CV2":0.28,"CV3":0.2,"CV4":0.67},
{"x":31,"CV1":0.38,"CV2":0.27,"CV3":0.2,"CV4":0.52},
{"x":32,"CV1":0.3,"CV2":0.22,"CV3":0.16,"CV4":0.52},
{"x":33,"CV1":0.3,"CV2":0.22,"CV3":0.16,"CV4":0.48},
{"x":34,"CV1":0.32,"CV2":0.23,"CV3":0.17,"CV4":0.55},
{"x":35,"CV1":0.25,"CV2":0.18,"CV3":0.13,"CV4":0.4},
{"x":36,"CV1":0.27,"CV2":0.19,"CV3":0.13,"CV4":0.45},
{"x":37,"CV1":0.25,"CV2":0.18,"CV3":0.12,"CV4":0.4},
{"x":38,"CV1":0.2,"CV2":0.14,"CV3":0.1,"CV4":0.32},
{"x":39,"CV1":0.22,"CV2":0.15,"CV3":0.1,"CV4":0.35},
{"x":40,"CV1":0.2,"CV2":0.14,"CV3":0.1,"CV4":0.32}
],
"ukd": [
{"x":0,"CV1":1,"CV2":1,"CV3":1},
{"x":1,"CV1":0.9,"CV2":1.09,"CV3":0.58},
{"x":2,"CV1":1.02,"CV2":1.06,"CV3":0.5},
{"x":3,"CV1":1.08,"CV2":0.72,"CV3":0.53},
{"x":4,"CV1":1.15,"CV2":1.15,"CV3":0.5},
{"x":5,"CV1":0.88,"CV2":0.85,"CV3":0.36},
{"x":6,"CV1":0.72,"CV2":0.48,"CV3":0.3},
{"x":7,"CV1":0.73,"CV2":0.69,"CV3":0.37},
{"x":8,"CV1":0.62,"CV2":0.62,"CV3":0.24},
{"x":9,"CV1":0.57,"CV2":0.5,"CV3":0.26},
{"x":10,"CV1":0.55,"CV2":0.4,"CV3":0.19},
{"x":11,"CV1":0.49,"CV2":0.44,"CV3":0.15},
{"x":12,"CV1":0.44,"CV2":0.33,"CV3":0.14},
{"x":13,"CV1":0.42,"CV2":0.35,"CV3":0.125},
{"x":14,"CV1":0.34,"CV2":0.34,"CV3":0.11},
{"x":15,"CV1":0.33,"CV2":0.25,"CV3":0.1},
{"x":16,"CV1":0.31,"CV2":0.32,"CV3":0.095},
{"x":17,"CV1":0.28,"CV2":0.23,"CV3":0.095},
{"x":18,"CV1":0.25,"CV2":0.21,"CV3":0.085},
{"x":19,"CV1":0.27,"CV2":0.21,"CV3":0.095},
{"x":20,"CV1":0.24,"CV2":0.25,"CV3":0.075},
{"x":21,"CV1":0.22,"CV2":0.16,"CV3":0.07},
{"x":22,"CV1":0.22,"CV2":0.17,"CV3":0.07},
{"x":23,"CV1":0.18,"CV2":0.17,"CV3":0.06},
{"x":24,"CV1":0.18,"CV2":0.13,"CV3":0.055},
{"x":25,"CV1":0.16,"CV2":0.15,"CV3":0.045},
{"x":26,"CV1":0.15,"CV2":0.13,"CV3":0.05},
{"x":27,"CV1":0.135,"CV2":0.12,"CV3":0.045},
{"x":28,"CV1":0.135,"CV2":0.12,"CV3":0.045},
{"x":29,"CV1":0.12,"CV2":0.11,"CV3":0.04},
{"x":30,"CV1":0.11,"CV2":0.1,"CV3":0.04},
{"x":31,"CV1":0.11,"CV2":0.1,"CV3":0.04},
{"x":32,"CV1":0.1,"CV2":0.1,"CV3":0.035},
{"x":33,"CV1":0.09,"CV2":0.08,"CV3":0.035},
{"x":34,"CV1":0.09,"CV2":0.08,"CV3":0.03},
{"x":35,"CV1":0.08,"CV2":0.08,"CV3":0.03},
{"x":36,"CV1":0.08,"CV2":0.075,"CV3":0.03},
{"x":37,"CV1":0.075,"CV2":0.07,"CV3":0.025},
{"x":38,"CV1":0.07,"CV2":0.07,"CV3":0.025},
{"x":39,"CV1":0.065,"CV2":0.06,"CV3":0.025},
{"x":40,"CV1":0.06,"CV2":0.06,"CV3":0.025}
],
"sep": [{"top":1.165,"bottom":-0.06}]
},
"vconcat": [
{"hconcat": [
{"title": "European Union", "width": 335, "height": 192, "data": {"name": "eu"},
 "transform": [{"fold": ["CV1","CV2","CV3","CV4"], "as": ["s","v"]}],
 "mark": {"type": "line", "strokeWidth": 2, "strokeJoin": "round"},
 "encoding": {
  "x": {"field": "x", "type": "quantitative", "scale": {"domain": [-0.65, 40.65], "nice": false, "zero": false}, "axis": {"values": [0,2,4,6,8,10,12,14,16,18,20,22,24,26,28,30,32,34,36,38,40], "grid": false, "labelFlush": false}},
  "y": {"field": "v", "type": "quantitative", "scale": {"domain": [0, 1.36], "nice": false}, "axis": {"values": [0,0.2,0.4,0.6,0.8,1.0,1.2], "format": ".2f"}},
  "color": {"field": "s", "type": "nominal", "scale": {"domain": ["CV1","CV2","CV3","CV4"], "range": ["#1FA18F","#5EC9CB","#0C5A4B","#EDB121"]},
   "legend": {"title": null, "orient": "top-right", "direction": "horizontal", "offset": -5, "symbolType": "stroke", "symbolStrokeWidth": 2, "symbolSize": 400, "labelFont": "Liberation Serif", "labelFontSize": 11, "labelColor": "#404040", "labelOffset": 1, "columnPadding": 4, "padding": 0}}
 }},
{"width": 8, "height": 192, "data": {"name": "sep"}, "mark": {"type": "rule", "color": "#EDB121", "strokeWidth": 1.2},
 "encoding": {"x": {"datum": 4, "type": "quantitative", "scale": {"domain": [0, 8]}, "axis": null},
  "y": {"field": "top", "type": "quantitative", "scale": {"domain": [0, 1], "nice": false, "zero": false}, "axis": null}, "y2": {"field": "bottom"}}},
{"title": "Asia", "width": 335, "height": 192, "data": {"name": "asia"},
 "transform": [{"fold": ["a","b","c","d","e","f","g","h","i","j","k","l","m","n","o","p"], "as": ["s","v"]}],
 "mark": {"type": "line", "strokeWidth": 2, "strokeJoin": "round"},
 "encoding": {
  "x": {"field": "x", "type": "quantitative", "scale": {"domain": [-0.65, 40.65], "nice": false, "zero": false}, "axis": {"values": [0,2,4,6,8,10,12,14,16,18,20,22,24,26,28,30,32,34,36,38,40], "grid": false, "labelFlush": false}},
  "y": {"field": "v", "type": "quantitative", "scale": {"domain": [0, 3], "nice": false}, "axis": {"values": [0,0.5,1,1.5,2,2.5,3], "format": ".2f"}},
  "color": {"field": "s", "type": "nominal", "scale": {"domain": ["a","b","c","d","e","f","g","h","i","j","k","l","m","n","o","p"], "range": ["#0C5A4B","#5B8ED6","#1F4F7A","#6CBB55","#FFC43A","#EDB121","#787878","#2166AC","#1FA18F","#DF7A33","#F4935C","#6A4BA3","#52A6E1","#4472C4","#8D6E20","#3E6F30"]}, "legend": null}
 }},
{"width": 13, "height": 192, "data": {"name": "sep"}, "mark": {"type": "rule", "color": "#EDB121", "strokeWidth": 1.2},
 "encoding": {"x": {"datum": 10, "type": "quantitative", "scale": {"domain": [0, 13]}, "axis": null},
  "y": {"field": "top", "type": "quantitative", "scale": {"domain": [0, 1], "nice": false, "zero": false}, "axis": null}, "y2": {"field": "bottom"}}},
{"title": "Advanced Economies", "width": 335, "height": 192, "data": {"name": "adv"},
 "transform": [{"fold": ["a","b","c","d","e","f","g","h","i","j","k","l"], "as": ["s","v"]}],
 "mark": {"type": "line", "strokeWidth": 2, "strokeJoin": "round"},
 "encoding": {
  "x": {"field": "x", "type": "quantitative", "scale": {"domain": [-0.65, 40.65], "nice": false, "zero": false}, "axis": {"values": [0,2,4,6,8,10,12,14,16,18,20,22,24,26,28,30,32,34,36,38,40], "grid": false, "labelFlush": false}},
  "y": {"field": "v", "type": "quantitative", "scale": {"domain": [0, 3.5], "nice": false}, "axis": {"values": [0,0.5,1,1.5,2,2.5,3,3.5], "format": ".2f"}},
  "color": {"field": "s", "type": "nominal", "scale": {"domain": ["a","b","c","d","e","f","g","h","i","j","k","l"], "range": ["#F4935C","#3E6F30","#1FA18F","#5B8ED6","#6A4BA3","#0C5A4B","#1F4F7A","#EDB121","#8D6E20","#787878","#6CBB55","#52A6E1"]}, "legend": null}
 }}
], "spacing": 17, "resolve": {"scale": {"x": "independent", "y": "independent", "color": "independent"}, "legend": {"color": "independent"}}},
{"hconcat": [
{"title": "South America", "width": 335, "height": 192, "data": {"name": "sam"},
 "transform": [{"fold": ["a","b","c","d","e","f","g","h","i","j"], "as": ["s","v"]}],
 "mark": {"type": "line", "strokeWidth": 2, "strokeJoin": "round"},
 "encoding": {
  "x": {"field": "x", "type": "quantitative", "scale": {"domain": [-0.65, 40.65], "nice": false, "zero": false}, "axis": {"values": [0,2,4,6,8,10,12,14,16,18,20,22,24,26,28,30,32,34,36,38,40], "grid": false, "labelFlush": false}},
  "y": {"field": "v", "type": "quantitative", "scale": {"domain": [0, 7], "nice": false}, "axis": {"values": [0,1,2,3,4,5,6,7], "format": ".2f"}},
  "color": {"field": "s", "type": "nominal", "scale": {"domain": ["a","b","c","d","e","f","g","h","i","j"], "range": ["#0C5A4B","#EDB121","#6A4BA3","#6CBB55","#1F4F7A","#1FA18F","#52A6E1","#787878","#5EC9CB","#5B8ED6"]}, "legend": null}
 }},
{"width": 7, "height": 192, "data": {"name": "sep"}, "mark": {"type": "rule", "color": "#EDB121", "strokeWidth": 1.2},
 "encoding": {"x": {"datum": 6, "type": "quantitative", "scale": {"domain": [0, 7]}, "axis": null},
  "y": {"field": "top", "type": "quantitative", "scale": {"domain": [0, 1], "nice": false, "zero": false}, "axis": null}, "y2": {"field": "bottom"}}},
{"title": "North America", "width": 335, "height": 192, "data": {"name": "nam"},
 "transform": [{"fold": ["a","b","c","d","e","f","g","h","i","j"], "as": ["s","v"]}],
 "mark": {"type": "line", "strokeWidth": 2, "strokeJoin": "round"},
 "encoding": {
  "x": {"field": "x", "type": "quantitative", "scale": {"domain": [-0.65, 40.65], "nice": false, "zero": false}, "axis": {"values": [0,2,4,6,8,10,12,14,16,18,20,22,24,26,28,30,32,34,36,38,40], "grid": false, "labelFlush": false}},
  "y": {"field": "v", "type": "quantitative", "scale": {"domain": [0, 8], "nice": false}, "axis": {"values": [0,1,2,3,4,5,6,7,8], "format": ".2f"}},
  "color": {"field": "s", "type": "nominal", "scale": {"domain": ["a","b","c","d","e","f","g","h","i","j"], "range": ["#1F4F7A","#6A4BA3","#6CBB55","#787878","#52A6E1","#1FA18F","#8D6E20","#EDB121","#0C5A4B","#5EC9CB"]}, "legend": null}
 }},
{"width": 7, "height": 192, "data": {"name": "sep"}, "mark": {"type": "rule", "color": "#EDB121", "strokeWidth": 1.2},
 "encoding": {"x": {"datum": 6, "type": "quantitative", "scale": {"domain": [0, 7]}, "axis": null},
  "y": {"field": "top", "type": "quantitative", "scale": {"domain": [0, 1], "nice": false, "zero": false}, "axis": null}, "y2": {"field": "bottom"}}},
{"title": "Africa and Middle East", "width": 335, "height": 192, "data": {"name": "afr"},
 "transform": [{"fold": ["a","b","c","d","e","f","g"], "as": ["s","v"]}],
 "mark": {"type": "line", "strokeWidth": 2, "strokeJoin": "round"},
 "encoding": {
  "x": {"field": "x", "type": "quantitative", "scale": {"domain": [-0.65, 40.65], "nice": false, "zero": false}, "axis": {"values": [0,2,4,6,8,10,12,14,16,18,20,22,24,26,28,30,32,34,36,38,40], "grid": false, "labelFlush": false}},
  "y": {"field": "v", "type": "quantitative", "scale": {"domain": [0, 2], "nice": false}, "axis": {"values": [0,0.2,0.4,0.6,0.8,1.0,1.2,1.4,1.6,1.8,2.0], "format": ".2f"}},
  "color": {"field": "s", "type": "nominal", "scale": {"domain": ["a","b","c","d","e","f","g"], "range": ["#0C5A4B","#5EC9CB","#1FA18F","#6CBB55","#EDB121","#5B8ED6","#1F4F7A"]}, "legend": null}
 }}
], "spacing": 20, "resolve": {"scale": {"x": "independent", "y": "independent", "color": "independent"}, "legend": {"color": "independent"}}},
{"hconcat": [
{"title": "China", "width": 335, "height": 192, "data": {"name": "chn"},
 "transform": [{"fold": ["CV1","CV2","CV3","CV4"], "as": ["s","v"]}],
 "mark": {"type": "line", "strokeWidth": 2, "strokeJoin": "round"},
 "encoding": {
  "x": {"field": "x", "type": "quantitative", "scale": {"domain": [-0.65, 40.65], "nice": false, "zero": false}, "axis": {"values": [0,2,4,6,8,10,12,14,16,18,20,22,24,26,28,30,32,34,36,38,40], "grid": false, "labelFlush": false}},
  "y": {"field": "v", "type": "quantitative", "scale": {"domain": [0, 4], "nice": false}, "axis": {"values": [0,0.5,1,1.5,2,2.5,3,3.5,4], "format": ".2f"}},
  "color": {"field": "s", "type": "nominal", "scale": {"domain": ["CV1","CV2","CV3","CV4"], "range": ["#1FA18F","#5EC9CB","#0C5A4B","#EDB121"]}, "legend": null}
 }},
{"width": 7, "height": 192, "data": {"name": "sep"}, "mark": {"type": "rule", "color": "#EDB121", "strokeWidth": 1.2},
 "encoding": {"x": {"datum": 6, "type": "quantitative", "scale": {"domain": [0, 7]}, "axis": null},
  "y": {"field": "top", "type": "quantitative", "scale": {"domain": [0, 1], "nice": false, "zero": false}, "axis": null}, "y2": {"field": "bottom"}}},
{"title": "Japan", "width": 335, "height": 192, "data": {"name": "jpn"},
 "transform": [{"fold": ["CV1","CV2","CV3","CV4"], "as": ["s","v"]}],
 "mark": {"type": "line", "strokeWidth": 2, "strokeJoin": "round"},
 "encoding": {
  "x": {"field": "x", "type": "quantitative", "scale": {"domain": [-0.65, 40.65], "nice": false, "zero": false}, "axis": {"values": [0,2,4,6,8,10,12,14,16,18,20,22,24,26,28,30,32,34,36,38,40], "grid": false, "labelFlush": false}},
  "y": {"field": "v", "type": "quantitative", "scale": {"domain": [0, 9], "nice": false}, "axis": {"values": [0,1,2,3,4,5,6,7,8,9], "format": ".2f"}},
  "color": {"field": "s", "type": "nominal", "scale": {"domain": ["CV1","CV2","CV3","CV4"], "range": ["#1FA18F","#5EC9CB","#0C5A4B","#EDB121"]}, "legend": null}
 }},
{"width": 7, "height": 192, "data": {"name": "sep"}, "mark": {"type": "rule", "color": "#EDB121", "strokeWidth": 1.2},
 "encoding": {"x": {"datum": 6, "type": "quantitative", "scale": {"domain": [0, 7]}, "axis": null},
  "y": {"field": "top", "type": "quantitative", "scale": {"domain": [0, 1], "nice": false, "zero": false}, "axis": null}, "y2": {"field": "bottom"}}},
{"title": "United Kingdom", "width": 335, "height": 192, "data": {"name": "ukd"},
 "transform": [{"fold": ["CV1","CV2","CV3"], "as": ["s","v"]}],
 "mark": {"type": "line", "strokeWidth": 2, "strokeJoin": "round"},
 "encoding": {
  "x": {"field": "x", "type": "quantitative", "scale": {"domain": [-0.65, 40.65], "nice": false, "zero": false}, "axis": {"values": [0,2,4,6,8,10,12,14,16,18,20,22,24,26,28,30,32,34,36,38,40], "grid": false, "labelFlush": false}},
  "y": {"field": "v", "type": "quantitative", "scale": {"domain": [0, 1.4], "nice": false}, "axis": {"values": [0,0.2,0.4,0.6,0.8,1.0,1.2,1.4], "format": ".2f"}},
  "color": {"field": "s", "type": "nominal", "scale": {"domain": ["CV1","CV2","CV3"], "range": ["#1FA18F","#5EC9CB","#0C5A4B"]}, "legend": null}
 }}
], "spacing": 20, "resolve": {"scale": {"x": "independent", "y": "independent", "color": "independent"}, "legend": {"color": "independent"}}}
],
"spacing": 48,
"resolve": {"scale": {"x": "independent", "y": "independent", "color": "independent"}, "legend": {"color": "independent"}},
"config": {
 "view": {"stroke": null},
 "font": "Liberation Serif",
 "axis": {"labelFont": "Liberation Serif", "labelFontSize": 12, "labelColor": "#595959", "gridColor": "#D9D9D9", "gridWidth": 1, "domain": false, "ticks": false, "title": null, "labelPadding": 5},
 "axisX": {"labelPadding": 4},
 "title": {"font": "Liberation Serif", "fontSize": 21, "fontWeight": "bold", "anchor": "start", "frame": "group", "dx": 2, "color": "#000000", "baseline": "alphabetic", "offset": 6}
}
}
